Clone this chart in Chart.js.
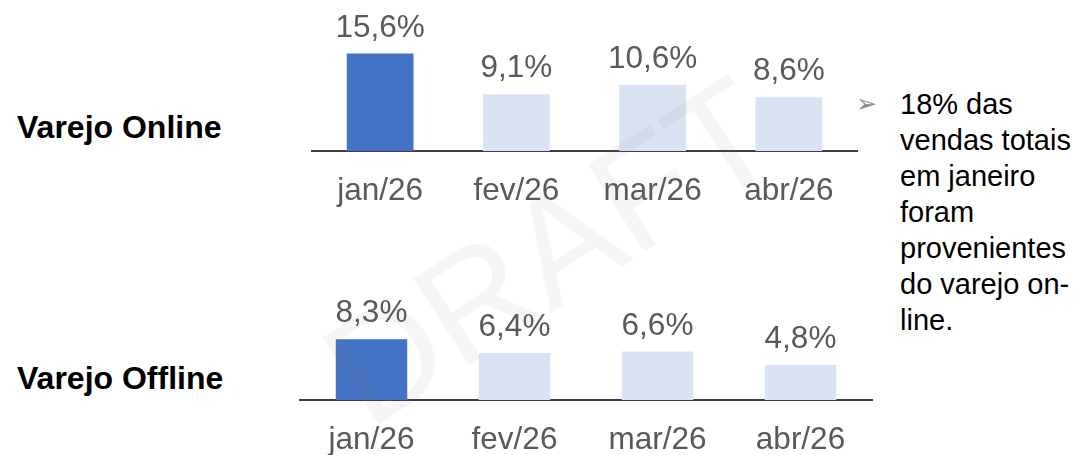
<!DOCTYPE html>
<html>
<head>
<meta charset="utf-8">
<script src="https://cdn.jsdelivr.net/npm/chart.js@4/dist/chart.umd.min.js"></script>
<style>
  html, body { margin:0; padding:0; background:#fff; width:1076px; height:455px; overflow:hidden; position:relative; font-family:"Liberation Sans", Arial, sans-serif; }
  .box { position:absolute; }
  .lbl { position:absolute; left:17px; font-weight:bold; font-size:32px; color:#000; line-height:36px; white-space:nowrap; }
  .note { position:absolute; left:900px; top:86px; font-size:29px; line-height:36px; color:#000; white-space:nowrap; }
  .bullet { position:absolute; left:856px; top:91px; font-family:"DejaVu Sans", sans-serif; font-size:25px; line-height:26px; color:#8a8a8a; }
  .wm { position:absolute; left:300px; top:165px; font-size:150px; color:rgba(120,120,120,0.07); transform:rotate(-33deg); transform-origin:center; white-space:nowrap; pointer-events:none; z-index:10; }
</style>
</head>
<body>
<div class="lbl" style="top:109px;">Varejo Online</div>
<div class="lbl" style="top:360px;">Varejo Offline</div>
<div class="bullet">➢</div>
<div class="note">18% das<br>vendas totais<br>em janeiro<br>foram<br>provenientes<br>do varejo on-<br>line.</div>
<div class="box" style="left:300px; top:0px; width:570px; height:225px;"><canvas id="c1"></canvas></div>
<div class="box" style="left:290px; top:290px; width:600px; height:165px;"><canvas id="c2"></canvas></div>
<div class="wm">DRAFT</div>
<script>
const categories = ["jan/26", "fev/26", "mar/26", "abr/26"];
const onlineValues = [15.6, 9.1, 10.6, 8.6];
const offlineValues = [8.3, 6.4, 6.6, 4.8];
const barColors = ["#4472C4", "#DAE3F3", "#DAE3F3", "#DAE3F3"];

const fmt = v => v.toFixed(1).replace(".", ",") + "%";

const labelPlugin = {
  id: "labels",
  afterDatasetsDraw(chart) {
    const ctx = chart.ctx;
    const meta = chart.getDatasetMeta(0);
    const xs = chart.scales.x;
    const data = chart.data.datasets[0].data;
    ctx.save();
    ctx.font = "31.5px 'Liberation Sans', Arial, sans-serif";
    ctx.fillStyle = "#595959";
    ctx.textAlign = "center";
    ctx.textBaseline = "alphabetic";
    meta.data.forEach((bar, i) => {
      ctx.fillText(fmt(data[i]), bar.x, bar.y - 17);
      ctx.fillText(chart.data.labels[i], xs.getPixelForValue(i), chart.chartArea.bottom + 49);
    });
    ctx.restore();
  }
};

function makeChart(id, values, yMax, pad, barPct) {
  return new Chart(document.getElementById(id), {
    type: "bar",
    data: {
      labels: categories,
      datasets: [{ data: values, backgroundColor: barColors, borderWidth: 0, barPercentage: barPct, categoryPercentage: 1 }]
    },
    options: {
      responsive: true,
      maintainAspectRatio: false,
      animation: false,
      layout: { padding: pad },
      plugins: { legend: { display: false }, tooltip: { enabled: false } },
      scales: {
        x: {
          grid: { display: false, drawTicks: false },
          ticks: { display: false },
          border: { display: true, color: "#3d3d45", width: 2 }
        },
        y: { display: false, min: 0, max: yMax }
      }
    },
    plugins: [labelPlugin]
  });
}

makeChart("c1", onlineValues, 20, { left: 12, right: 13, top: 26, bottom: 74 }, 0.49);
makeChart("c2", offlineValues, 12, { left: 10, right: 18, top: 22, bottom: 55 }, 0.50);
</script>
</body>
</html>
